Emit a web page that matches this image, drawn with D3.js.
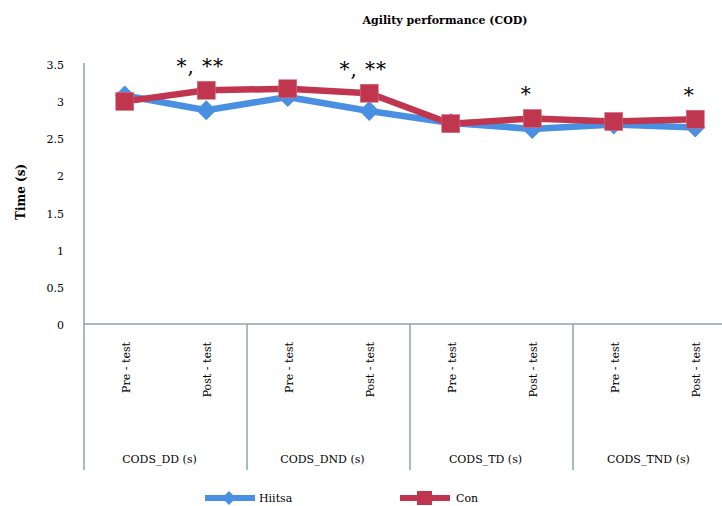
<!DOCTYPE html>
<html><head><meta charset="utf-8">
<script src="https://cdn.jsdelivr.net/npm/d3@7"></script>
<style>body{margin:0;background:#fff}svg{display:block}text{font-family:"DejaVu Serif",serif;fill:#000}</style>
</head><body><svg id="c" width="722" height="506"></svg>
<script>
const groups = ["CODS_DD (s)", "CODS_DND (s)", "CODS_TD (s)", "CODS_TND (s)"];
const phases = ["Pre - test", "Post - test"];
const hiitsa = [3.09, 2.89, 3.07, 2.88, 2.72, 2.64, 2.70, 2.66];
const con = [3.01, 3.16, 3.18, 3.12, 2.71, 2.78, 2.74, 2.77];
const notes = [{i:1, t:"*, **"}, {i:3, t:"*, **"}, {i:5, t:"*"}, {i:7, t:"*"}];
const yTicks = [0, 0.5, 1, 1.5, 2, 2.5, 3, 3.5];

(function () {
const cats = [];
groups.forEach((g, gi) => phases.forEach((p, pi) => cats.push({g, gi, p, key: g + "|" + p})));

const svg = d3.select("#c");
const pLeft = 84, pRight = 736, pTop = 65, pBottom = 325, boxBottom = 470;
const axisCol = "#8ea5a3";
const blue = "#4a90e2", red = "#c0364f";

const x = d3.scaleBand().domain(cats.map(d => d.key)).range([pLeft, pRight]);
const xg = d3.scaleBand().domain(groups).range([pLeft, pRight]);
const y = d3.scaleLinear().domain([0, 3.5]).range([pBottom, pTop]);

svg.append("text").attr("x", 445).attr("y", 24).attr("text-anchor", "middle")
  .attr("font-weight", "bold").attr("font-size", 11).text("Agility performance (COD)");

svg.selectAll(".yt").data(yTicks).join("text")
  .attr("x", 64).attr("y", d => y(d) + 4).attr("text-anchor", "end")
  .attr("font-size", 11).text(d => d);

svg.append("text").attr("transform", "translate(25,192) rotate(-90)")
  .attr("text-anchor", "middle").attr("font-weight", "bold").attr("font-size", 12).text("Time (s)");

svg.append("line").attr("x1", pLeft).attr("x2", pLeft).attr("y1", pTop - 2).attr("y2", boxBottom)
  .attr("stroke", axisCol).attr("stroke-width", 1.5);
svg.append("line").attr("x1", pLeft).attr("x2", 722).attr("y1", pBottom - 1).attr("y2", pBottom - 1)
  .attr("stroke", axisCol).attr("stroke-width", 1.5);
svg.selectAll(".sep").data(groups.slice(1)).join("line")
  .attr("x1", d => xg(d)).attr("x2", d => xg(d)).attr("y1", pBottom - 1).attr("y2", boxBottom)
  .attr("stroke", axisCol).attr("stroke-width", 1.5);

svg.selectAll(".cl").data(cats).join("text")
  .attr("transform", d => `translate(${x(d.key) + x.bandwidth() / 2 + 5},342) rotate(-90)`)
  .attr("text-anchor", "end").attr("font-size", 11).text(d => d.p);

svg.selectAll(".gl").data(groups).join("text")
  .attr("x", d => xg(d) + xg.bandwidth() / 2 - 6).attr("y", 463).attr("text-anchor", "middle")
  .attr("font-size", 11).text(d => d);

const cx = i => x(cats[i].key) + x.bandwidth() / 2;
const line = d3.line().x((d, i) => cx(i)).y(d => y(d));

svg.append("path").datum(hiitsa).attr("d", line).attr("fill", "none")
  .attr("stroke", blue).attr("stroke-width", 6.5).attr("stroke-linejoin", "round");
svg.selectAll(".dm").data(hiitsa).join("path")
  .attr("transform", (d, i) => `translate(${cx(i)},${y(d)})`)
  .attr("d", "M0,-10L10,0L0,10L-10,0Z").attr("fill", blue);

svg.append("path").datum(con).attr("d", line).attr("fill", "none")
  .attr("stroke", red).attr("stroke-width", 6.5).attr("stroke-linejoin", "round");
svg.selectAll(".sq").data(con).join("rect")
  .attr("x", (d, i) => cx(i) - 9).attr("y", d => y(d) - 9).attr("width", 18).attr("height", 18)
  .attr("fill", red).attr("stroke", "#d27080").attr("stroke-width", 0.6);

svg.selectAll(".nt").data(notes).join("text")
  .attr("x", d => cx(d.i) - 6).attr("y", d => y(Math.max(hiitsa[d.i], con[d.i])) - 17)
  .attr("text-anchor", "middle").attr("font-family", "DejaVu Sans").attr("font-size", 20)
  .attr("letter-spacing", 1).text(d => d.t);

const leg = [{n: "Hiitsa", c: blue, s: "d", x: 205}, {n: "Con", c: red, s: "s", x: 400}];
const lg = svg.selectAll(".lg").data(leg).join("g").attr("transform", d => `translate(${d.x},498)`);
lg.append("line").attr("x1", 0).attr("x2", 50).attr("stroke", d => d.c).attr("stroke-width", 6);
lg.filter(d => d.s === "d").append("path").attr("d", "M24,-7L31,0L24,7L17,0Z").attr("fill", d => d.c);
lg.filter(d => d.s === "s").append("rect").attr("x", 17).attr("y", -7).attr("width", 15).attr("height", 14).attr("fill", d => d.c);
lg.append("text").attr("x", d => d.s === "d" ? 54 : 56).attr("y", 4).attr("font-size", 11).text(d => d.n);
})();
</script></body></html>
